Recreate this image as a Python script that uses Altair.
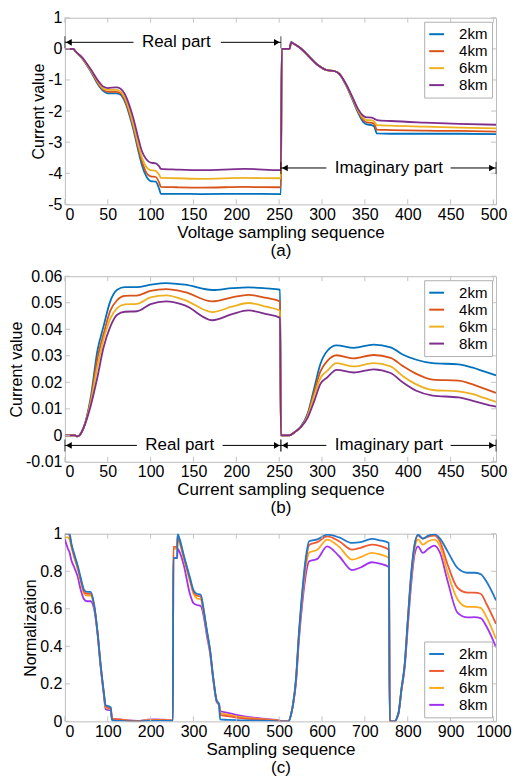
import altair as alt
import pandas as pd

SERIES = ["2km", "4km", "6km", "8km"]
COLORS_AB = ["#0072BD", "#D95319", "#EDB120", "#7E2F8E"]
COLORS_C = ["#1F78C8", "#F05A30", "#FFA81A", "#A033F0"]
FONT = "Liberation Sans"
FS = 16

# ---------------- Panel (a): voltage ----------------
xa = [0, 10, 12, 20, 30, 40, 45, 50, 60, 65, 70, 75, 80, 85, 90, 95, 100, 106, 110, 112,
      130, 160, 210, 252,
      253, 262, 264, 268, 275, 285, 295, 305, 315, 320, 327, 335, 342, 348, 352, 358,
      361, 364, 380, 420, 460, 503]
a_2km = [0, 0, -0.07, -0.3, -0.72, -1.2, -1.36, -1.43, -1.43, -1.48, -1.7, -2.1, -2.6, -3.2,
         -3.75, -4.1, -4.25, -4.27, -4.5, -4.66, -4.66, -4.67, -4.66, -4.67,
         0, 0, 0.22, 0.15, 0.02, -0.25, -0.52, -0.68, -0.72, -0.8, -1.12, -1.6, -2.05, -2.35,
         -2.43, -2.45, -2.5, -2.72, -2.73, -2.73, -2.73, -2.74]
a_4km = [0, 0, -0.07, -0.29, -0.7, -1.16, -1.32, -1.38, -1.38, -1.43, -1.64, -2.03, -2.52,
         -3.1, -3.62, -3.98, -4.1, -4.12, -4.3, -4.44, -4.45, -4.46, -4.44, -4.45,
         0, 0, 0.2, 0.15, 0.02, -0.25, -0.52, -0.68, -0.72, -0.8, -1.1, -1.57, -2.0, -2.28,
         -2.36, -2.38, -2.42, -2.6, -2.61, -2.63, -2.64, -2.66]
a_6km = [0, 0, -0.07, -0.28, -0.68, -1.12, -1.28, -1.32, -1.32, -1.37, -1.57, -1.95, -2.44,
         -3.0, -3.5, -3.8, -3.9, -3.92, -4.05, -4.15, -4.16, -4.18, -4.15, -4.16,
         0, 0, 0.2, 0.15, 0.02, -0.25, -0.52, -0.68, -0.72, -0.8, -1.1, -1.55, -1.97, -2.22,
         -2.29, -2.3, -2.34, -2.45, -2.47, -2.5, -2.53, -2.56]
a_8km = [0, 0, -0.07, -0.27, -0.65, -1.07, -1.22, -1.26, -1.24, -1.28, -1.46, -1.8, -2.25,
         -2.8, -3.3, -3.55, -3.66, -3.68, -3.78, -3.86, -3.88, -3.9, -3.86, -3.9,
         0, 0, 0.2, 0.15, 0.02, -0.25, -0.52, -0.68, -0.72, -0.8, -1.08, -1.52, -1.93, -2.15,
         -2.2, -2.21, -2.25, -2.29, -2.32, -2.37, -2.41, -2.44]

# ---------------- Panel (b): current ----------------
xb = [0, 12, 14, 17, 22, 30, 38, 45, 53, 61, 70, 84, 100, 118, 140, 172, 195, 214, 235, 251,
      252, 262, 268, 275, 283, 291, 298, 306, 317, 337, 360, 380, 394, 410, 429, 459, 475, 490, 503]
b_2km = [0, 0, -0.0004, 0, 0.003, 0.014, 0.032, 0.041, 0.0506, 0.0549, 0.0559, 0.0559, 0.0568,
         0.0574, 0.0568, 0.0548, 0.0555, 0.0558, 0.0554, 0.0549,
         0, 0, 0.0012, 0.0032, 0.008, 0.018, 0.0268, 0.0318, 0.0339, 0.033, 0.0342, 0.0332,
         0.0305, 0.0285, 0.0272, 0.0268, 0.0256, 0.024, 0.0226]
b_4km = [0, 0, -0.0004, 0, 0.003, 0.013, 0.029, 0.038, 0.047, 0.051, 0.0526, 0.0527, 0.0545,
         0.0551, 0.054, 0.0505, 0.052, 0.053, 0.0518, 0.0505,
         0, 0, 0.0012, 0.003, 0.0075, 0.0165, 0.024, 0.028, 0.0302, 0.029, 0.0303, 0.0292,
         0.0262, 0.0232, 0.021, 0.0206, 0.0193, 0.0175, 0.016]
b_6km = [0, 0, -0.0004, 0, 0.003, 0.012, 0.026, 0.036, 0.044, 0.048, 0.0494, 0.0496, 0.052,
         0.0528, 0.051, 0.0465, 0.0485, 0.0499, 0.0485, 0.047,
         0, 0, 0.0012, 0.003, 0.007, 0.015, 0.0215, 0.0243, 0.0272, 0.026, 0.0272, 0.026,
         0.0224, 0.0192, 0.0171, 0.0166, 0.0156, 0.014, 0.0126]
b_8km = [0, 0, -0.0004, 0, 0.003, 0.011, 0.022, 0.033, 0.041, 0.0455, 0.0466, 0.0468, 0.0495,
         0.0505, 0.049, 0.0434, 0.0457, 0.0471, 0.0457, 0.0443,
         0, 0, 0.0012, 0.003, 0.0065, 0.013, 0.0193, 0.0218, 0.0247, 0.0237, 0.0249, 0.0235,
         0.02, 0.0168, 0.015, 0.0143, 0.0131, 0.0118, 0.0108]

# ---------------- Panel (c): normalization ----------------
xc = [0, 7, 11, 15, 22, 30, 37, 45, 52, 60, 68, 76, 83, 91, 95, 103, 107, 110, 115, 130, 150,
      170, 190, 210, 230, 252,
      253, 260, 262, 263, 268, 277, 292, 300, 308, 317, 323, 331, 339, 346, 354, 360, 362, 380,
      400, 440, 480, 500, 506,
      515, 522, 527, 533, 539, 546, 554, 562, 570, 589, 612, 640, 670, 690, 716, 735, 756, 758,
      770, 775, 779, 785, 793, 800, 808, 816, 824, 835, 848, 862, 875, 893, 916, 939, 955, 970,
      985, 1006]
c_2km = [1.0, 1.0, 1.0, 0.95, 0.89, 0.83, 0.765, 0.7, 0.69, 0.69, 0.625, 0.48, 0.31, 0.15, 0.086,
         0.08, 0.075, 0.007, 0.003, 0.002, 0.0, 0.0, 0.002, 0.003, 0.003, 0.002,
         0.87, 0.87, 0.87, 1.0, 0.97, 0.89, 0.765, 0.7, 0.68, 0.675, 0.607, 0.49, 0.377, 0.236,
         0.113, 0.09, 0.01, 0.008, 0.006, 0.004, 0.002, 0.0, 0.0,
         0.0, 0.0, 0.03, 0.1, 0.22, 0.466, 0.695, 0.87, 0.96, 0.97, 0.995, 0.98, 0.951, 0.955,
         0.972, 0.965, 0.951, 0.0,
         0.0, 0.02, 0.05, 0.166, 0.307, 0.536, 0.783, 0.942, 0.995, 0.974, 0.99, 0.998, 0.975,
         0.906, 0.818, 0.792, 0.792, 0.785, 0.74, 0.645]
c_4km = [1.0, 1.0, 0.99, 0.94, 0.88, 0.82, 0.755, 0.69, 0.68, 0.68, 0.62, 0.48, 0.31, 0.15, 0.08,
         0.072, 0.068, 0.012, 0.01, 0.008, 0.003, 0.001, 0.004, 0.006, 0.006, 0.004,
         0.93, 0.93, 0.93, 0.99, 0.96, 0.88, 0.755, 0.69, 0.67, 0.665, 0.6, 0.485, 0.372, 0.232,
         0.11, 0.088, 0.035, 0.028, 0.02, 0.012, 0.006, 0.003, 0.0,
         0.0, 0.0, 0.03, 0.1, 0.22, 0.46, 0.68, 0.85, 0.94, 0.955, 0.986, 0.96, 0.915, 0.925,
         0.942, 0.935, 0.915, 0.0,
         0.0, 0.02, 0.05, 0.166, 0.307, 0.536, 0.783, 0.942, 0.99, 0.974, 0.985, 0.99, 0.96,
         0.836, 0.712, 0.686, 0.686, 0.68, 0.62, 0.519]
c_6km = [0.98, 0.98, 0.97, 0.93, 0.87, 0.81, 0.745, 0.68, 0.67, 0.67, 0.615, 0.475, 0.305, 0.145,
         0.075, 0.068, 0.063, 0.013, 0.011, 0.009, 0.004, 0.002, 0.006, 0.008, 0.007, 0.005,
         0.92, 0.92, 0.92, 0.98, 0.95, 0.87, 0.745, 0.68, 0.655, 0.65, 0.59, 0.48, 0.368, 0.23,
         0.108, 0.087, 0.045, 0.036, 0.027, 0.016, 0.008, 0.004, 0.0,
         0.0, 0.0, 0.03, 0.1, 0.21, 0.45, 0.66, 0.82, 0.9, 0.915, 0.968, 0.93, 0.862, 0.875,
         0.898, 0.89, 0.871, 0.0,
         0.0, 0.02, 0.05, 0.166, 0.3, 0.52, 0.76, 0.92, 0.97, 0.942, 0.96, 0.968, 0.935,
         0.792, 0.651, 0.61, 0.61, 0.605, 0.55, 0.439]
c_8km = [0.97, 0.92, 0.9, 0.86, 0.82, 0.77, 0.7, 0.65, 0.64, 0.64, 0.6, 0.47, 0.3, 0.14, 0.065,
         0.06, 0.058, 0.015, 0.013, 0.011, 0.005, 0.003, 0.008, 0.011, 0.009, 0.006,
         0.87, 0.87, 0.87, 0.92, 0.9, 0.836, 0.677, 0.63, 0.62, 0.615, 0.571, 0.46, 0.36, 0.225,
         0.105, 0.085, 0.055, 0.045, 0.035, 0.02, 0.01, 0.005, 0.0,
         0.0, 0.0, 0.03, 0.1, 0.2, 0.43, 0.63, 0.78, 0.853, 0.866, 0.933, 0.88, 0.806, 0.82,
         0.848, 0.84, 0.822, 0.0,
         0.0, 0.02, 0.05, 0.16, 0.29, 0.5, 0.73, 0.89, 0.933, 0.898, 0.92, 0.937, 0.9,
         0.748, 0.58, 0.554, 0.555, 0.55, 0.5, 0.395]

# axis ticks
xticks_ab = list(range(0, 501, 50))
yticks_a = [-5, -4, -3, -2, -1, 0, 1]
yticks_b = [-0.01, 0, 0.01, 0.02, 0.03, 0.04, 0.05, 0.06]
xticks_c = list(range(0, 1001, 100))
yticks_c = [0, 0.2, 0.4, 0.6, 0.8, 1]

# annotations: arrow from x0 to x1 at level y, text centred at tx, line gap g0..g1
ann_a = {"label": ["Real part", "Imaginary part"], "x0": [0, 252], "x1": [252, 503],
         "y": [0.21, -3.83], "tx": [130, 378], "g0": [80, 305], "g1": [182, 450]}
ann_b = {"label": ["Real part", "Imaginary part"], "x0": [0, 252], "x1": [252, 503],
         "y": [-0.0038, -0.0038], "tx": [134, 378], "g0": [84, 305], "g1": [184, 450]}

W = 432
TICK = "#c4c4c4"


def long_df(x, cols):
    rows = []
    for name, vals in zip(SERIES, cols):
        for xi, yi in zip(x, vals):
            rows.append({"x": xi, "y": yi, "series": name})
    return pd.DataFrame(rows)


def legend(orient):
    return alt.Legend(title=None, orient=orient, offset=4, fillColor="white",
                      strokeColor="#b0b0b0", padding=4, symbolType="stroke",
                      symbolSize=220, symbolStrokeWidth=2, labelFont=FONT,
                      labelFontSize=15, labelColor="black", rowPadding=-4, labelOffset=14)


def panel(df, xdom, ydom, xticks, yticks, yfmt, xtitle, ytitle, colors, H, leg_orient,
          ann=None, reverse=False):
    xaxis = alt.Axis(title=xtitle, values=xticks, titleLineHeight=18, labelPadding=2,
                     titlePadding=2, labelOverlap=False, titleFontSize=17,
                     labelExpr="replace(format(datum.value, 'd'), '\u2212', '-')")
    yaxis = alt.Axis(title=ytitle, values=yticks, labelPadding=3, titlePadding=1,
                     labelOverlap=False,
                     labelExpr="replace(format(datum.value, '%s'), '\u2212', '-')" % yfmt)
    xs = alt.Scale(domain=xdom, nice=False, zero=False)
    ys = alt.Scale(domain=ydom, nice=False, zero=False)

    def X(f):
        return alt.X(f, type="quantitative", scale=xs, axis=xaxis)

    def Y(f):
        return alt.Y(f, type="quantitative", scale=ys, axis=yaxis)

    cenc = alt.Color("series:N", scale=alt.Scale(domain=SERIES, range=colors), legend=legend(leg_orient))
    order = list(reversed(SERIES)) if reverse else SERIES
    layers = [
        alt.Chart(df[df.series == s]).mark_line(strokeWidth=1.8, interpolate="monotone", clip=True)
        .encode(x=X("x"), y=Y("y"), color=cenc)
        for s in order
    ]
    # inner tick marks (MATLAB style box ticks)
    L = 5
    xdf = pd.DataFrame({"x": xticks})
    ydf = pd.DataFrame({"y": yticks})
    m = dict(color=TICK, strokeWidth=1)
    layers += [
        alt.Chart(xdf).mark_rule(**m).encode(x=X("x"), y=alt.value(H), y2=alt.value(H - L)),
        alt.Chart(xdf).mark_rule(**m).encode(x=X("x"), y=alt.value(0), y2=alt.value(L)),
        alt.Chart(ydf).mark_rule(**m).encode(y=Y("y"), x=alt.value(0), x2=alt.value(L)),
        alt.Chart(ydf).mark_rule(**m).encode(y=Y("y"), x=alt.value(W - L), x2=alt.value(W)),
    ]
    if ann is not None:
        base = alt.Chart(pd.DataFrame(ann))
        layers += [
            base.mark_rule(color="black", strokeWidth=1).encode(x=X("x0"), x2="g0:Q", y=Y("y")),
            base.mark_rule(color="black", strokeWidth=1).encode(x=X("g1"), x2="x1:Q", y=Y("y")),
            base.mark_point(shape="triangle-left", filled=True, color="black", size=45, opacity=1, xOffset=4)
                .encode(x=X("x0"), y=Y("y")),
            base.mark_point(shape="triangle-right", filled=True, color="black", size=45, opacity=1, xOffset=-4)
                .encode(x=X("x1"), y=Y("y")),
            base.mark_tick(orient="vertical", color="black", thickness=1, size=12)
                .encode(x=X("x0"), y=Y("y")),
            base.mark_tick(orient="vertical", color="black", thickness=1, size=12)
                .encode(x=X("x1"), y=Y("y")),
            base.mark_text(font=FONT, fontSize=17, color="black", baseline="middle")
                .encode(x=X("tx"), y=Y("y"), text="label:N"),
        ]
    return alt.layer(*layers).properties(width=W, height=H)


pa = panel(long_df(xa, [a_2km, a_4km, a_6km, a_8km]), [0, 503], [-5, 1], xticks_ab, yticks_a, "d",
           ["Voltage sampling sequence", "(a)"], "Current value", COLORS_AB, 187, "top-right", ann_a)
pb = panel(long_df(xb, [b_2km, b_4km, b_6km, b_8km]), [0, 503], [-0.01, 0.06], xticks_ab, yticks_b, ".2~f",
           ["Current sampling sequence", "(b)"], "Current value", COLORS_AB, 186, "top-right", ann_b)
pc = panel(long_df(xc, [c_2km, c_4km, c_6km, c_8km]), [0, 1006], [0, 1], xticks_c, yticks_c, ".1~f",
           ["Sampling sequence", "(c)"], "Normalization", COLORS_C, 188, "bottom-right", reverse=True)

chart = (
    alt.vconcat(pa, pb, pc, spacing=8)
    .resolve_scale(color="independent")
    .resolve_legend(color="independent")
    .properties(padding={"left": 0, "top": 0, "right": 0, "bottom": 0}, background="white")
    .configure_view(stroke="#bdbdbd", strokeWidth=1)
    .configure_axis(domain=False, ticks=False, grid=False, labelFont=FONT, labelFontSize=FS,
                    labelColor="black", titleFont=FONT, titleFontSize=FS, titleFontWeight="normal",
                    titleColor="black", labelOverlap=False)
)

chart.save("out.html", embed_options={"renderer": "svg", "actions": False})
